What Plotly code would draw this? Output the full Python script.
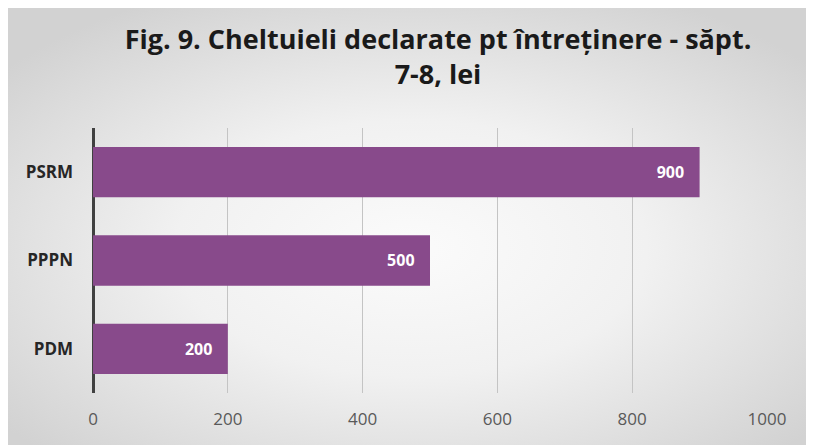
import base64
import plotly.graph_objects as go

categories = ["PDM", "PPPN", "PSRM"]
values = [200, 500, 900]
tick_values = [0, 200, 400, 600, 800, 1000]
title_text = "Fig. 9. Cheltuieli declarate pt întreținere - săpt.<br>7-8, lei"

# page has an 8px body margin, so the figure starts at (8, 8)
W, H = 806, 437
ML, MR, MT, MB = 85, 47, 120, 52
PW, PH = W - ML - MR, H - MT - MB

svg = (
    "<svg xmlns='http://www.w3.org/2000/svg' width='806' height='437'>"
    "<defs><radialGradient id='g' cx='50%' cy='55%' r='65%'>"
    "<stop offset='0' stop-color='#fbfbfb'/><stop offset='0.45' stop-color='#f1f1f1'/>"
    "<stop offset='1' stop-color='#d2d2d2'/></radialGradient></defs>"
    "<rect width='806' height='437' fill='url(#g)'/></svg>"
)
src = "data:image/svg+xml;base64," + base64.b64encode(svg.encode()).decode()

FONT = "Open Sans"

fig = go.Figure(
    go.Bar(
        x=values,
        y=categories,
        orientation="h",
        marker=dict(color="#884a8b", line=dict(width=0)),
        text=values,
        texttemplate="%{x}\u00a0\u00a0\u00a0",
        textposition="inside",
        insidetextanchor="end",
        textfont=dict(family=FONT, size=16, color="white", weight="bold"),
        cliponaxis=False,
    )
)

fig.update_layout(
    width=W,
    height=H,
    margin=dict(l=ML, r=MR, t=MT, b=MB),
    paper_bgcolor="#e8e8e8",
    plot_bgcolor="rgba(0,0,0,0)",
    bargap=0.43,
    showlegend=False,
    title=dict(
        text=title_text,
        x=430 / W,
        xanchor="center",
        y=1 - 41 / H,
        yanchor="top",
        font=dict(family=FONT, size=27, color="#1a1a1a", weight="bold"),
    ),
    images=[
        dict(
            source=src,
            xref="paper",
            yref="paper",
            x=-ML / PW,
            y=1 + MT / PH,
            sizex=W / PW,
            sizey=H / PH,
            xanchor="left",
            yanchor="top",
            sizing="stretch",
            layer="below",
        )
    ],
    xaxis=dict(
        range=[0, 1000],
        tickvals=tick_values,
        showgrid=True,
        gridcolor="#c4c4c4",
        gridwidth=1,
        zeroline=True,
        zerolinecolor="#404040",
        zerolinewidth=3,
        showline=False,
        ticks="",
        ticklabelstandoff=14,
        tickfont=dict(family=FONT, size=17, color="#595959"),
        fixedrange=True,
    ),
    yaxis=dict(
        showgrid=False,
        showline=False,
        ticks="",
        ticklabelstandoff=19,
        tickfont=dict(family=FONT, size=17, color="#262626", weight="bold"),
        fixedrange=True,
    ),
)

fig.write_html("out.html")
